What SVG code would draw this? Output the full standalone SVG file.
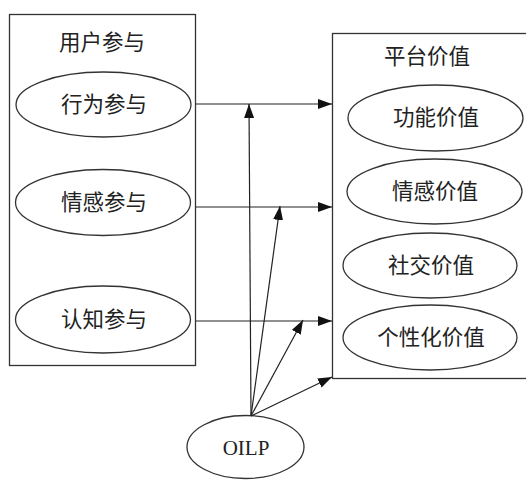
<svg xmlns="http://www.w3.org/2000/svg" width="526" height="480" viewBox="0 0 526 480">
<style>
.box{fill:none;stroke:#333;stroke-width:1.3}
.el{fill:#fff;stroke:#333;stroke-width:1.3}
.t{font-family:"Liberation Serif","Noto Sans CJK SC",serif;font-size:21.5px;fill:#222;text-anchor:middle}
.e{font-family:"Liberation Serif",serif;font-size:21px;fill:#222;text-anchor:middle}
.c{stroke:#222;stroke-width:1.2;fill:none;marker-end:url(#ah)}
</style>
<defs>
<marker id="ah" markerWidth="14" markerHeight="10" refX="14" refY="5" orient="auto" markerUnits="userSpaceOnUse">
<path d="M0,0 L14,5 L0,10 Z" fill="#111"/>
</marker>
</defs>
<rect width="526" height="480" fill="#fff"/>
<g id="user">
<rect class="box" x="9.5" y="14.5" width="186" height="351"/>
<text class="t" x="102" y="50">用户参与</text>
</g>
<g id="n1"><ellipse class="el" cx="103.5" cy="104.5" rx="87.5" ry="32.5"/><text class="t" x="104" y="112">行为参与</text></g>
<g id="n2"><ellipse class="el" cx="103" cy="202.5" rx="87.5" ry="33"/><text class="t" x="104" y="210">情感参与</text></g>
<g id="n3"><ellipse class="el" cx="103" cy="319.5" rx="87.5" ry="33.5"/><text class="t" x="104" y="327">认知参与</text></g>
<g id="platform">
<rect class="box" x="332.5" y="33.5" width="200" height="345"/>
<text class="t" x="427" y="64">平台价值</text>
</g>
<g id="v1"><ellipse class="el" cx="435.5" cy="118" rx="87.5" ry="33"/><text class="t" x="436" y="125">功能价值</text></g>
<g id="v2"><ellipse class="el" cx="434.5" cy="191.5" rx="87.5" ry="32.5"/><text class="t" x="435" y="199">情感价值</text></g>
<g id="v3"><ellipse class="el" cx="430" cy="265.5" rx="87" ry="32.5"/><text class="t" x="431" y="273">社交价值</text></g>
<g id="v4"><ellipse class="el" cx="430" cy="337.5" rx="87" ry="32.5"/><text class="t" x="431" y="345">个性化价值</text></g>
<g id="oilp"><ellipse class="el" cx="245.5" cy="447" rx="58.5" ry="31.5"/><text class="e" x="246" y="455">OILP</text></g>
<g id="connectors">
<line class="c" x1="196" y1="104" x2="332" y2="104"/>
<line class="c" x1="196" y1="207" x2="332" y2="207"/>
<line class="c" x1="196" y1="321" x2="332" y2="321"/>
<line class="c" x1="251" y1="416" x2="249" y2="104"/>
<line class="c" x1="251" y1="416" x2="280" y2="206"/>
<line class="c" x1="251" y1="416" x2="303" y2="320"/>
<line class="c" x1="251" y1="416" x2="332" y2="377"/>
</g>
</svg>
